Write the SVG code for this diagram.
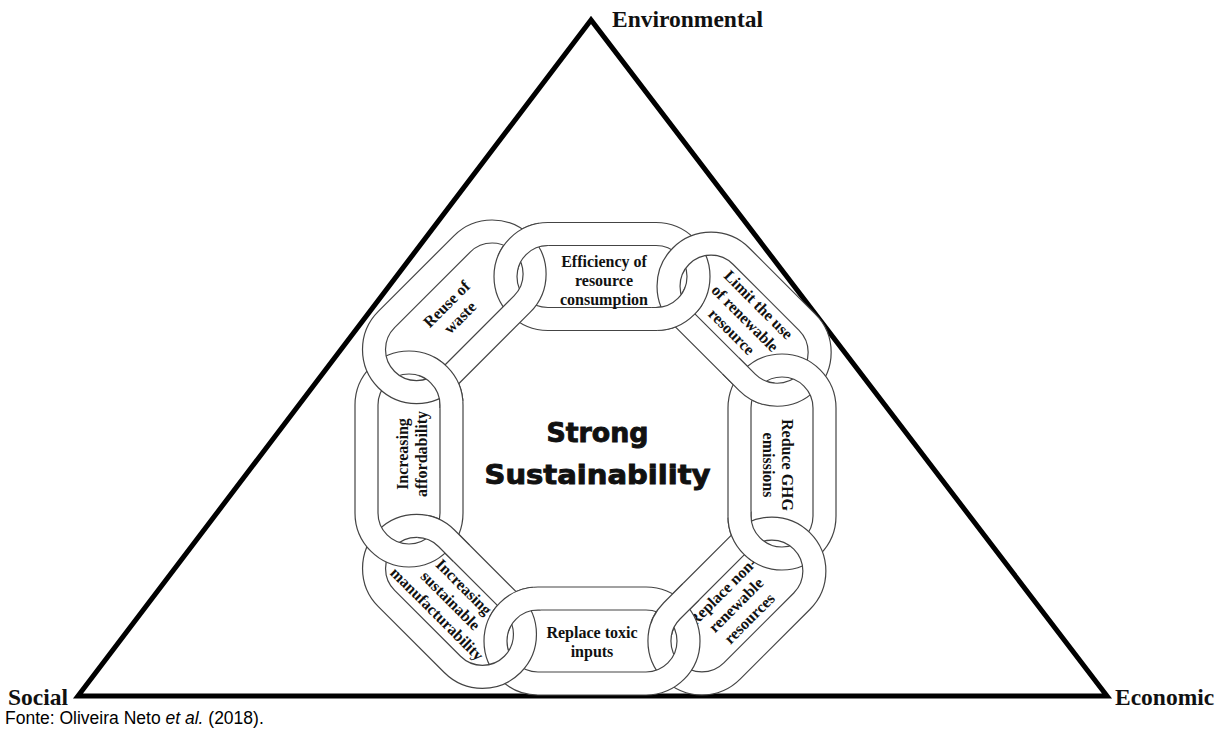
<svg xmlns="http://www.w3.org/2000/svg" xmlns:xlink="http://www.w3.org/1999/xlink" width="1219" height="738" viewBox="0 0 1219 738">
  <style>
    .band { fill: #ffffff; fill-rule: evenodd; stroke: #444; stroke-width: 1.2; }
    .lbl { font-family: "Liberation Serif", "Times New Roman", serif; font-weight: bold; font-size: 16px; fill: #111; text-anchor: middle; }
    .corner { font-family: "Liberation Serif", "Times New Roman", serif; font-weight: bold; font-size: 23.5px; fill: #111; }
    .core { font-family: "DejaVu Sans", sans-serif; font-weight: bold; font-size: 26px; fill: #111; stroke: #111; stroke-width: 0.9; text-anchor: middle; }
    .src { font-family: "Liberation Sans", Arial, sans-serif; font-size: 17.5px; fill: #000; }
  </style>
  <defs>
    <!-- chain links: stadium rings (outer r 54, inner r 31), axis along x -->
    <path id="band-h54" class="band" d="M-54,-54 H54 A54,54 0 0 1 54,54 H-54 A54,54 0 0 1 -54,-54 Z M-54,-31 H54 A31,31 0 0 1 54,31 H-54 A31,31 0 0 1 -54,-31 Z"/>
    <path id="band-h1" class="band" d="M-46.75,-54 H46.75 A54,54 0 0 1 46.75,54 H-46.75 A54,54 0 0 1 -46.75,-54 Z M-46.75,-31 H46.75 A31,31 0 0 1 46.75,31 H-46.75 A31,31 0 0 1 -46.75,-31 Z"/>
    <path id="band-h3" class="band" d="M-49.45,-54 H49.45 A54,54 0 0 1 49.45,54 H-49.45 A54,54 0 0 1 -49.45,-54 Z M-49.45,-31 H49.45 A31,31 0 0 1 49.45,31 H-49.45 A31,31 0 0 1 -49.45,-31 Z"/>
    <path id="band-h5" class="band" d="M-46.6,-54 H46.6 A54,54 0 0 1 46.6,54 H-46.6 A54,54 0 0 1 -46.6,-54 Z M-46.6,-31 H46.6 A31,31 0 0 1 46.6,31 H-46.6 A31,31 0 0 1 -46.6,-31 Z"/>
    <path id="band-h7" class="band" d="M-53.45,-54 H53.45 A54,54 0 0 1 53.45,54 H-53.45 A54,54 0 0 1 -53.45,-54 Z M-53.45,-31 H53.45 A31,31 0 0 1 53.45,31 H-53.45 A31,31 0 0 1 -53.45,-31 Z"/>
    <!-- crossing zones where the earlier link passes over its neighbour -->
    <clipPath id="x01" clipPathUnits="userSpaceOnUse"><circle cx="678.0" cy="312.9" r="27"/></clipPath>
    <clipPath id="x12" clipPathUnits="userSpaceOnUse"><circle cx="747.7" cy="382.9" r="27"/></clipPath>
    <clipPath id="x23" clipPathUnits="userSpaceOnUse"><circle cx="745.5" cy="537.7" r="27"/></clipPath>
    <clipPath id="x34" clipPathUnits="userSpaceOnUse"><circle cx="674.0" cy="609.0" r="27"/></clipPath>
    <clipPath id="x45" clipPathUnits="userSpaceOnUse"><circle cx="514.0" cy="605.9" r="27"/></clipPath>
    <clipPath id="x56" clipPathUnits="userSpaceOnUse"><circle cx="444.5" cy="536.4" r="27"/></clipPath>
    <clipPath id="x67" clipPathUnits="userSpaceOnUse"><circle cx="444.5" cy="381.6" r="27"/></clipPath>
    <clipPath id="x70" clipPathUnits="userSpaceOnUse"><circle cx="521.5" cy="243.3" r="27"/></clipPath>
  </defs>

  <rect width="1219" height="738" fill="#ffffff"/>

  <!-- outer triangle of the three pillars -->
  <g id="triangle">
    <polygon points="591,20 78,696 1107,696" fill="none" stroke="#000" stroke-width="5" stroke-linejoin="miter"/>
    <text class="corner" x="612" y="27">Environmental</text>
    <text class="corner" x="8" y="705">Social</text>
    <text class="corner" x="1115" y="705">Economic</text>
  </g>

  <!-- chain links, clockwise from the top -->
  <g id="link-efficiency">
    <use xlink:href="#band-h54" transform="translate(602,276.5)"/>
    <text class="lbl" x="604" y="267">Efficiency of<tspan x="604" y="286">resource</tspan><tspan x="604" y="305">consumption</tspan></text>
  </g>
  <g id="link-limit-renewable">
    <use xlink:href="#band-h1" transform="translate(744.1,319.2) rotate(45)"/>
    <text class="lbl" transform="translate(741.3,322) rotate(45)"><tspan x="0" y="-19">Limit the use</tspan><tspan x="0" y="0">of renewable</tspan><tspan x="0" y="19">resource</tspan></text>
  </g>
  <g id="link-ghg">
    <use xlink:href="#band-h54" transform="translate(782,462) rotate(90)"/>
    <text class="lbl" transform="translate(782,465) rotate(90)"><tspan x="0" y="0">Reduce GHG</tspan><tspan x="0" y="19">emissions</tspan></text>
  </g>
  <g id="link-non-renewable">
    <use xlink:href="#band-h3" transform="translate(736.9,606) rotate(-45)"/>
    <text class="lbl" transform="translate(739.7,608.8) rotate(-45)"><tspan x="0" y="-19">Replace non-</tspan><tspan x="0" y="0">renewable</tspan><tspan x="0" y="19">resources</tspan></text>
  </g>
  <g id="link-toxic">
    <use xlink:href="#band-h54" transform="translate(592,641)"/>
    <text class="lbl" x="592" y="638">Replace toxic<tspan x="592" y="657">inputs</tspan></text>
  </g>
  <g id="link-manufacturability">
    <use xlink:href="#band-h5" transform="translate(449.5,601.4) rotate(45)"/>
    <text class="lbl" transform="translate(446.7,604.2) rotate(45)"><tspan x="0" y="-19">Increasing</tspan><tspan x="0" y="0">sustainable</tspan><tspan x="0" y="19">manufacturability</tspan></text>
  </g>
  <g id="link-affordability">
    <use xlink:href="#band-h54" transform="translate(409,459) rotate(-90)"/>
    <text class="lbl" transform="translate(408,454) rotate(-90)"><tspan x="0" y="0">Increasing</tspan><tspan x="0" y="19">affordability</tspan></text>
  </g>
  <g id="link-waste">
    <use xlink:href="#band-h7" transform="translate(454.3,311.8) rotate(-45)"/>
    <text class="lbl" transform="translate(454.3,311.8) rotate(-45)"><tspan x="0" y="-5.5">Reuse of</tspan><tspan x="0" y="13.5">waste</tspan></text>
  </g>

  <!-- over/under at each joint -->
  <g id="interlocks">
    <g clip-path="url(#x01)"><use xlink:href="#band-h54" transform="translate(602,276.5)"/></g>
    <g clip-path="url(#x12)"><use xlink:href="#band-h1" transform="translate(744.1,319.2) rotate(45)"/></g>
    <g clip-path="url(#x23)"><use xlink:href="#band-h54" transform="translate(782,462) rotate(90)"/></g>
    <g clip-path="url(#x34)"><use xlink:href="#band-h3" transform="translate(736.9,606) rotate(-45)"/></g>
    <g clip-path="url(#x45)"><use xlink:href="#band-h54" transform="translate(592,641)"/></g>
    <g clip-path="url(#x56)"><use xlink:href="#band-h5" transform="translate(449.5,601.4) rotate(45)"/></g>
    <g clip-path="url(#x67)"><use xlink:href="#band-h54" transform="translate(409,459) rotate(-90)"/></g>
    <g clip-path="url(#x70)"><use xlink:href="#band-h54" transform="translate(602,276.5)"/></g>
  </g>

  <!-- centre title -->
  <g id="title">
    <text class="core" x="597.5" y="442" textLength="102" lengthAdjust="spacingAndGlyphs">Strong</text>
    <text class="core" x="597.5" y="484" textLength="226" lengthAdjust="spacingAndGlyphs">Sustainability</text>
  </g>

  <text class="src" x="5" y="724">Fonte: Oliveira Neto <tspan font-style="italic">et al.</tspan> (2018).</text>
</svg>
